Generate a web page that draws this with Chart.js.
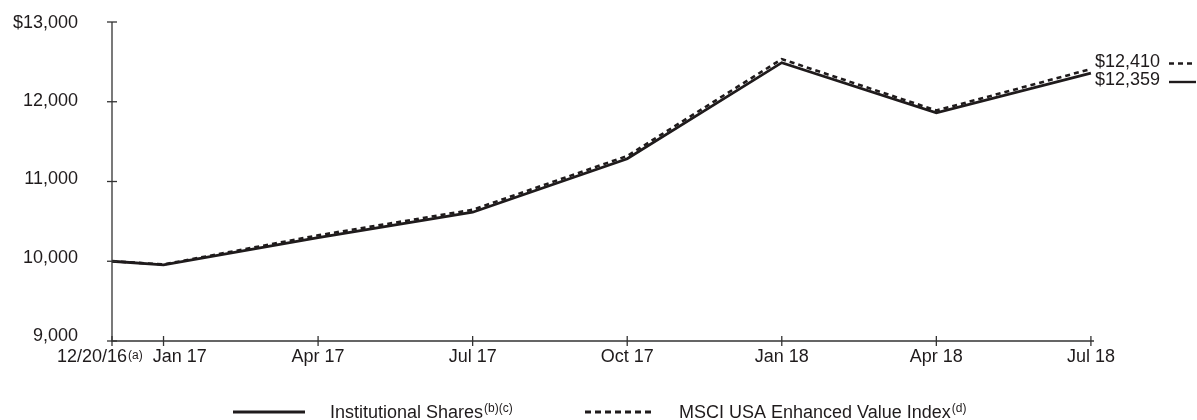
<!DOCTYPE html>
<html>
<head>
<meta charset="utf-8">
<script src="https://cdn.jsdelivr.net/npm/chart.js@4"></script>
<style>
  html, body { margin: 0; padding: 0; background: #fff; }
  #wrap { width: 1197px; height: 420px; position: relative; }
</style>
</head>
<body>
<div id="wrap"><canvas id="growthChart" width="1197" height="420"></canvas></div>
<script>
// month slots from inception (12/20/16 = 0), quarter ends are labelled
const tickLabels = ['12/20/16', 'Jan 17', 'Apr 17', 'Jul 17', 'Oct 17', 'Jan 18', 'Apr 18', 'Jul 18'];
const tickNotes = ['(a)', '', '', '', '', '', '', ''];
const tickMonths = [0, 1, 4, 7, 10, 13, 16, 19];
const fundValues = [10000, 9955, 10295, 10615, 11285, 12490, 11860, 12359];
const indexValues = [10000, 9960, 10325, 10645, 11320, 12535, 11890, 12410];
const yTicks = [9000, 10000, 11000, 12000, 13000];

const INK = '#1f1b1c';
const FONT = '"Liberation Sans", Arial, Helvetica, sans-serif';

function toPoints(values) {
    return values.map((v, i) => ({ x: tickMonths[i], y: v }));
}

function fmt(v) {
    return v.toLocaleString('en-US');
}

// draws text plus a small raised note, returns the right edge
function drawWithSup(ctx, text, sup, x, y, supDy) {
    ctx.font = '18px ' + FONT;
    ctx.textAlign = 'left';
    ctx.fillText(text, x, y);
    let right = x + ctx.measureText(text).width;
    if (sup) {
        ctx.font = '12px ' + FONT;
        ctx.fillText(sup, right + 1, y - supDy);
        right += 1 + ctx.measureText(sup).width;
    }
    return right;
}

const axesPlugin = {
    id: 'axesPlugin',
    afterDraw(chart) {
        const ctx = chart.ctx;
        const xs = chart.scales.x;
        const ys = chart.scales.y;
        const area = chart.chartArea;
        ctx.save();
        ctx.strokeStyle = '#333';
        ctx.lineWidth = 1.3;
        ctx.fillStyle = INK;

        // axis lines
        ctx.beginPath();
        ctx.moveTo(area.left, area.top);
        ctx.lineTo(area.left, area.bottom);
        ctx.lineTo(area.right, area.bottom);
        ctx.stroke();

        // y ticks and labels
        ctx.font = '18px ' + FONT;
        ctx.textAlign = 'right';
        ctx.textBaseline = 'middle';
        yTicks.forEach(v => {
            const py = ys.getPixelForValue(v);
            ctx.beginPath();
            ctx.moveTo(area.left - 5, py);
            ctx.lineTo(area.left + 5, py);
            ctx.stroke();
            const label = (v === yTicks[yTicks.length - 1] ? '$' : '') + fmt(v);
            const shift = 1.5 * (yTicks[yTicks.length - 1] - v) / 1000;
            ctx.fillText(label, 78, py - shift + 1);
        });

        // x ticks and labels; a label is pushed right if it would run into the previous one
        ctx.textBaseline = 'alphabetic';
        let prevRight = -Infinity;
        tickMonths.forEach((m, i) => {
            const px = xs.getPixelForValue(m);
            ctx.beginPath();
            ctx.moveTo(px, area.bottom - 5);
            ctx.lineTo(px, area.bottom + 5);
            ctx.stroke();
            ctx.font = '18px ' + FONT;
            const w = ctx.measureText(tickLabels[i]).width;
            if (tickNotes[i]) {
                prevRight = drawWithSup(ctx, tickLabels[i], tickNotes[i], px - 55, 362, 3);
            } else {
                const left = Math.max(px - w / 2, prevRight + 10);
                ctx.textAlign = 'left';
                ctx.fillText(tickLabels[i], left, 362);
                prevRight = left + w;
            }
        });

        // end-value labels with line samples
        const last = tickMonths.length - 1;
        const endX = xs.getPixelForValue(tickMonths[last]) + 4;
        const ends = [
            { value: indexValues[last], y: 62, dash: [5, 4] },
            { value: fundValues[last], y: 80.5, dash: [] }
        ];
        ctx.font = '18px ' + FONT;
        ctx.textAlign = 'left';
        ctx.textBaseline = 'middle';
        ends.forEach(e => {
            ctx.fillText('$' + fmt(e.value), endX, e.y);
            ctx.save();
            ctx.strokeStyle = INK;
            ctx.lineWidth = 2.4;
            ctx.setLineDash(e.dash);
            ctx.beginPath();
            ctx.moveTo(1169, e.y + 1.5);
            ctx.lineTo(1196, e.y + 1.5);
            ctx.stroke();
            ctx.restore();
        });

        // legend
        const legendItems = [
            { text: 'Institutional Shares', note: '(b)(c)', x0: 233, x1: 305, tx: 330, dash: [] },
            { text: 'MSCI USA Enhanced Value Index', note: '(d)', x0: 585, x1: 652, tx: 679, dash: [6, 4] }
        ];
        ctx.textBaseline = 'alphabetic';
        legendItems.forEach(it => {
            ctx.save();
            ctx.strokeStyle = INK;
            ctx.lineWidth = 3;
            ctx.setLineDash(it.dash);
            ctx.beginPath();
            ctx.moveTo(it.x0, 412);
            ctx.lineTo(it.x1, 412);
            ctx.stroke();
            ctx.restore();
            drawWithSup(ctx, it.text, it.note, it.tx, 418, 6);
        });
        ctx.restore();
    }
};

const ctx = document.getElementById('growthChart').getContext('2d');
new Chart(ctx, {
    type: 'line',
    data: {
        datasets: [{
            label: 'Institutional Shares',
            data: toPoints(fundValues),
            borderColor: INK,
            borderWidth: 2.8,
            pointRadius: 0,
            tension: 0,
            clip: false
        }, {
            label: 'MSCI USA Enhanced Value Index',
            data: toPoints(indexValues),
            borderColor: INK,
            borderWidth: 2.6,
            borderDash: [5, 4],
            pointRadius: 0,
            tension: 0,
            clip: false
        }]
    },
    options: {
        responsive: false,
        animation: false,
        events: [],
        layout: { padding: { left: 112, right: 103, top: 22, bottom: 79 } },
        scales: {
            x: { type: 'linear', display: false, min: 0, max: 19.06 },
            y: { type: 'linear', display: false, min: 9000, max: 13000 }
        },
        plugins: {
            legend: { display: false },
            title: { display: false },
            tooltip: { enabled: false }
        }
    },
    plugins: [axesPlugin]
});
</script>
</body>
</html>
